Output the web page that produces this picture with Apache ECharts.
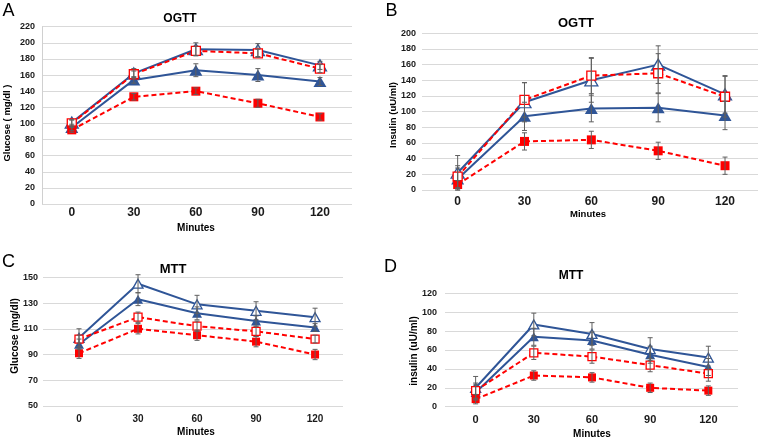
<!DOCTYPE html>
<html><head><meta charset="utf-8">
<script src="https://cdn.jsdelivr.net/npm/echarts@6/dist/echarts.min.js"></script>
<style>html,body{margin:0;padding:0;background:#fff}#c{width:759px;height:439px}</style>
</head><body><div id="c"></div>
<script>
// ---- shared x values / tick labels ----
const minutes = [0, 30, 60, 90, 120];
const tickLabels = ['0', '30', '60', '90', '120'];

// ---- Panel A: OGTT glucose (mg/dl) ----
const aOpenTri = [101, 162, 192, 191, 172];
const aOpenTriErr = [4, 6, 8, 8, 5];
const aFilledTri = [95, 154, 166, 160, 152];
const aFilledTriErr = [4, 4, 8, 8, 5];
const aOpenSq = [100, 161, 190, 187, 168];
const aOpenSqErr = [4, 4, 6, 5, 5];
const aFilledSq = [92, 133, 140, 125, 108];
const aFilledSqErr = [3, 4, 4, 5, 4];

// ---- Panel B: OGTT insulin (uU/ml) ----
const bOpenTri = [22, 112, 140, 160, 122];
const bOpenTriErr = [22, 25, 28, 24, 24];
const bFilledTri = [14, 94, 104, 105, 95];
const bFilledTriErr = [14, 18, 17, 18, 18];
const bOpenSq = [17, 115, 146, 149, 119];
const bOpenSqErr = [14, 22, 23, 25, 26];
const bFilledSq = [7, 62, 64, 50, 31];
const bFilledSqErr = [5, 11, 11, 11, 11];

// ---- Panel C: MTT glucose (mg/dl) ----
const cOpenTri = [103, 145, 129, 124, 119];
const cOpenTriErr = [7, 7, 7, 7, 7];
const cFilledTri = [98, 133, 122, 116, 111];
const cFilledTriErr = [4, 5, 5, 4, 3];
const cOpenSq = [102, 119, 112, 108, 102];
const cOpenSqErr = [3, 4, 4, 4, 3];
const cFilledSq = [91, 110, 105, 100, 90];
const cFilledSqErr = [4, 4, 4, 4, 4];

// ---- Panel D: MTT insulin (uU/ml) ----
const dOpenTri = [20, 87, 77, 61, 52];
const dOpenTriErr = [12, 12, 12, 12, 12];
const dFilledTri = [15, 74, 70, 55, 42];
const dFilledTriErr = [8, 9, 9, 9, 9];
const dOpenSq = [17, 57, 53, 44, 35];
const dOpenSqErr = [8, 7, 7, 7, 8];
const dFilledSq = [8, 33, 31, 20, 17];
const dFilledSqErr = [5, 5, 5, 5, 5];

// ---------------------------------------------
const FONT = "'Liberation Sans', Arial, sans-serif";
const BLUE = '#2F5597';
const RED = '#FF0000';
const GRID = '#d9d9d9';

function pairs(vals) { return minutes.map((m, i) => [m, vals[i]]); }
function errPairs(vals, errs) { return minutes.map((m, i) => [m, vals[i] - errs[i], vals[i] + errs[i]]); }

function renderErr(params, api) {
  const x = api.value(0), lo = api.value(1), hi = api.value(2);
  const p1 = api.coord([x, lo]), p2 = api.coord([x, hi]);
  const w = 2.5;
  const style = { stroke: '#5f5f5f', lineWidth: 1 };
  return {
    type: 'group', children: [
      { type: 'line', shape: { x1: p1[0], y1: p1[1], x2: p2[0], y2: p2[1] }, style },
      { type: 'line', shape: { x1: p1[0] - w, y1: p1[1], x2: p1[0] + w, y2: p1[1] }, style },
      { type: 'line', shape: { x1: p2[0] - w, y1: p2[1], x2: p2[0] + w, y2: p2[1] }, style }
    ]
  };
}

function lineSeries(gi, vals, kind, small) {
  const isTri = kind.indexOf('Tri') >= 0;
  const open = kind.indexOf('open') === 0;
  const color = isTri ? BLUE : RED;
  return {
    type: 'line', xAxisIndex: gi, yAxisIndex: gi, data: pairs(vals),
    symbol: isTri ? 'triangle' : 'rect',
    symbolSize: isTri ? (small ? [10, 9] : [13, 11]) : (small ? 8 : 9),
    lineStyle: { color, width: 2, type: isTri ? 'solid' : [5, 3] },
    itemStyle: open ? { color: '#fff', borderColor: color, borderWidth: 1.3 } : { color, borderWidth: 0 },
    z: 2, animation: false, silent: true
  };
}
function errSeries(gi, vals, errs) {
  return {
    type: 'custom', xAxisIndex: gi, yAxisIndex: gi, data: errPairs(vals, errs),
    renderItem: renderErr, encode: { x: 0, y: [1, 2] }, z: 3, animation: false, silent: true
  };
}

const grids = [
  { left: 42, top: 26.7, width: 310, height: 177.3 },
  { left: 422, top: 33.3, width: 336, height: 156.7 },
  { left: 43, top: 277.3, width: 300, height: 128.7 },
  { left: 445, top: 293.3, width: 293, height: 113.4 }
];
const xRanges = [[-14.4, 135.5], [-16, 134.8], [-18.3, 134.2], [-15.8, 135.3]];
const xFont = [12, 12, 10, 11];
const xMargin = [3, 6, 8, 8];

const xAxes = grids.map((g, i) => ({
  type: 'value', gridIndex: i, min: xRanges[i][0], max: xRanges[i][1],
  axisLine: { show: false }, axisTick: { show: false }, splitLine: { show: false },
  axisLabel: {
    customValues: minutes, margin: xMargin[i],
    fontFamily: FONT, fontWeight: 'bold', fontSize: xFont[i], color: '#1a1a1a',
    formatter: v => { const k = minutes.indexOf(Math.round(v)); return k >= 0 ? tickLabels[k] : ''; }
  }
}));

const yLabel = (m) => ({ margin: m, fontFamily: FONT, fontWeight: 'bold', fontSize: 9, color: '#1a1a1a' });
const yAxes = [
  { type: 'value', gridIndex: 0, min: 0, max: 220, interval: 20,
    axisLine: { show: true, onZero: false, lineStyle: { color: '#d0d0d0', width: 1 } }, axisTick: { show: false },
    splitLine: { lineStyle: { color: GRID, width: 1 } }, axisLabel: yLabel(7) },
  { type: 'value', gridIndex: 1, min: 0, max: 200, interval: 20,
    axisLine: { show: false }, axisTick: { show: false },
    splitLine: { lineStyle: { color: GRID, width: 1 } }, axisLabel: yLabel(6) },
  { type: 'value', gridIndex: 2, min: 50, max: 150, interval: 10,
    axisLine: { show: false }, axisTick: { show: false },
    splitLine: { lineStyle: { color: [GRID, 'rgba(0,0,0,0)'], width: 1 } },
    axisLabel: Object.assign(yLabel(5), { formatter: v => ((v - 50) % 20 === 0 ? String(v) : '') }) },
  { type: 'value', gridIndex: 3, min: 0, max: 120, interval: 20,
    axisLine: { show: false }, axisTick: { show: false },
    splitLine: { lineStyle: { color: GRID, width: 1 } }, axisLabel: yLabel(8) }
];

const panels = [
  [aOpenTri, aOpenTriErr, aFilledTri, aFilledTriErr, aOpenSq, aOpenSqErr, aFilledSq, aFilledSqErr],
  [bOpenTri, bOpenTriErr, bFilledTri, bFilledTriErr, bOpenSq, bOpenSqErr, bFilledSq, bFilledSqErr],
  [cOpenTri, cOpenTriErr, cFilledTri, cFilledTriErr, cOpenSq, cOpenSqErr, cFilledSq, cFilledSqErr],
  [dOpenTri, dOpenTriErr, dFilledTri, dFilledTriErr, dOpenSq, dOpenSqErr, dFilledSq, dFilledSqErr]
];
const kinds = ['openTri', 'filledTri', 'openSq', 'filledSq'];
const series = [];
panels.forEach((p, gi) => {
  const small = gi >= 2;
  kinds.forEach((k, j) => {
    series.push(lineSeries(gi, p[j * 2], k, small));
  });
  kinds.forEach((k, j) => {
    series.push(errSeries(gi, p[j * 2], p[j * 2 + 1]));
  });
});

function txt(s, x, y, size, weight, rot) {
  return {
    type: 'text', x, y, rotation: rot || 0, silent: true,
    style: { text: s, fill: '#000', font: (weight || 'normal') + ' ' + size + 'px ' + FONT, align: 'center', verticalAlign: 'middle' }
  };
}
const graphics = [
  txt('A', 8.5, 11, 18), txt('B', 391.5, 11, 18), txt('C', 8.5, 262, 18), txt('D', 390.5, 267, 18),
  txt('OGTT', 180, 19, 12, 'bold'), txt('OGTT', 576, 23, 13, 'bold'),
  txt('MTT', 173, 269, 13, 'bold'), txt('MTT', 571, 276, 12, 'bold'),
  txt('Minutes', 196, 228, 10, 'bold'), txt('Minutes', 588, 214, 9.5, 'bold'),
  txt('Minutes', 196, 432, 10, 'bold'), txt('Minutes', 592, 434, 10, 'bold'),
  txt('Glucose ( mg/dl )', 7.5, 123, 9.5, 'bold', Math.PI / 2),
  txt('Insulin (uU/ml)', 393.5, 115, 9.5, 'bold', Math.PI / 2),
  txt('Glucose (mg/dl)', 15.5, 336, 10, 'bold', Math.PI / 2),
  txt('insulin (uU/ml)', 414, 351, 10, 'bold', Math.PI / 2)
];

const chart = echarts.init(document.getElementById('c'), null, { renderer: 'canvas' });
chart.setOption({
  backgroundColor: '#fff', animation: false,
  grid: grids, xAxis: xAxes, yAxis: yAxes, series, graphic: graphics
});
</script></body></html>
